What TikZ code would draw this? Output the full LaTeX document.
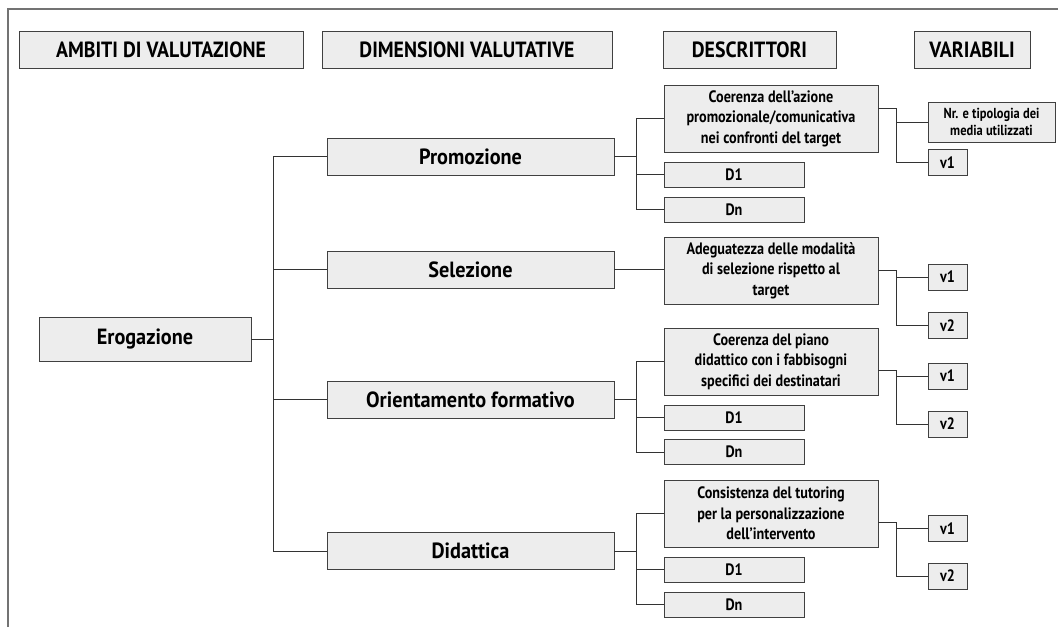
\documentclass[tikz,border=0pt]{standalone}
\usepackage{fontspec}
\setmainfont[FakeStretch=0.86]{PT Sans Bold}
\newfontfamily\hfont[FakeStretch=0.9]{PT Sans Bold}
\newfontfamily\dfont[FakeStretch=0.92]{PT Sans Bold}
\begin{document}
\begin{tikzpicture}[x=1pt,y=-1pt,
  box/.style={draw=black!75, fill=black!7, line width=0.8pt, inner sep=0pt, align=center},
  hdr/.style={box, minimum height=37pt, font=\hfont\fontsize{22}{24}\selectfont},
  dim/.style={box, minimum width=287pt, minimum height=37pt, font=\dfont\fontsize{22}{24}\selectfont},
  desc/.style={box, minimum width=214pt, minimum height=67pt, font=\fontsize{16.5}{20.5}\selectfont},
  sdesc/.style={box, minimum width=140pt, minimum height=25pt, font=\fontsize{16.5}{20}\selectfont},
  var/.style={box, minimum width=39pt, minimum height=26pt, font=\fontsize{16.5}{20}\selectfont},
  link/.style={draw=black!80, line width=0.8pt}]
\useasboundingbox (0,0) rectangle (1058,627);
\draw[black!55, line width=1.5pt] (8,627) -- (8,9) -- (1058,9);
% headers
\node[hdr, minimum width=284pt] (h1) at (161,49.5) {AMBITI DI VALUTAZIONE};
\node[hdr, minimum width=290pt] (h2) at (467,49.5) {DIMENSIONI VALUTATIVE};
\node[hdr, minimum width=173pt] (h3) at (749.5,49.5) {DESCRITTORI};
\node[hdr, minimum width=116pt] (h4) at (972,49.5) {VARIABILI};
% ambito
\node[box, minimum width=212pt, minimum height=44pt, font=\dfont\fontsize{22}{24}\selectfont] (ero) at (145,339) {Erogazione};
% dimensions
\node[dim] (prom) at (470.5,156.5) {Promozione};
\node[dim] (sel) at (470.5,269.5) {Selezione};
\node[dim] (ori) at (470.5,399.5) {Orientamento formativo};
\node[dim] (did) at (470.5,551) {Didattica};
% descriptors
\node[desc] (c1) at (771,118.5) {Coerenza dell’azione\\promozionale/comunicativa\\nei confronti del target};
\node[sdesc] (p1) at (734,174.5) {D1};
\node[sdesc] (pn) at (734,209.5) {Dn};
\node[desc] (c2) at (771,270.5) {Adeguatezza delle modalità\\di selezione rispetto al\\target};
\node[desc] (c3) at (771,361.5) {Coerenza del piano\\didattico con i fabbisogni\\specifici dei destinatari};
\node[sdesc] (o1) at (734,417.5) {D1};
\node[sdesc] (on) at (734,452) {Dn};
\node[desc] (c4) at (771,513.5) {Consistenza del tutoring\\per la personalizzazione\\dell’intervento};
\node[sdesc] (d1) at (734,569.5) {D1};
\node[sdesc] (dn) at (734,604.5) {Dn};
% variables
\node[box, minimum width=127pt, minimum height=40pt, font=\fontsize{14.5}{17}\selectfont] (nr) at (991.5,122) {Nr. e tipologia dei\\media utilizzati};
\node[var] (pv1) at (947.5,162.5) {v1};
\node[var] (sv1) at (947.5,277) {v1};
\node[var] (sv2) at (947.5,325.5) {v2};
\node[var] (ov1) at (947.5,376) {v1};
\node[var] (ov2) at (947.5,424) {v2};
\node[var] (dv1) at (947.5,528.5) {v1};
\node[var] (dv2) at (947.5,576) {v2};
% connectors level 1
\foreach \t in {prom,sel,ori,did}
  \draw[link] (ero.east) -- ++(22,0) |- (\t.west);
% level 2
\foreach \t in {c1,p1,pn}
  \draw[link] (prom.east) -- ++(22,0) |- (\t.west);
\draw[link] (sel.east) -- (sel.east -| c2.west);
\foreach \t in {c3,o1,on}
  \draw[link] (ori.east) -- ++(22,0) |- (\t.west);
\foreach \t in {c4,d1,dn}
  \draw[link] (did.east) -- ++(22,0) |- (\t.west);
% level 3
\foreach \t in {nr,pv1}
  \draw[link] ([yshift=10.5pt]c1.east) -- ++(18,0) |- (\t.west);
\foreach \t in {sv1,sv2}
  \draw[link] (c2.east) -- ++(18,0) |- (\t.west);
\foreach \t in {ov1,ov2}
  \draw[link] ([yshift=-8.5pt]c3.east) -- ++(18,0) |- (\t.west);
\foreach \t in {dv1,dv2}
  \draw[link] ([yshift=-8.5pt]c4.east) -- ++(18,0) |- (\t.west);
\end{tikzpicture}
\end{document}
